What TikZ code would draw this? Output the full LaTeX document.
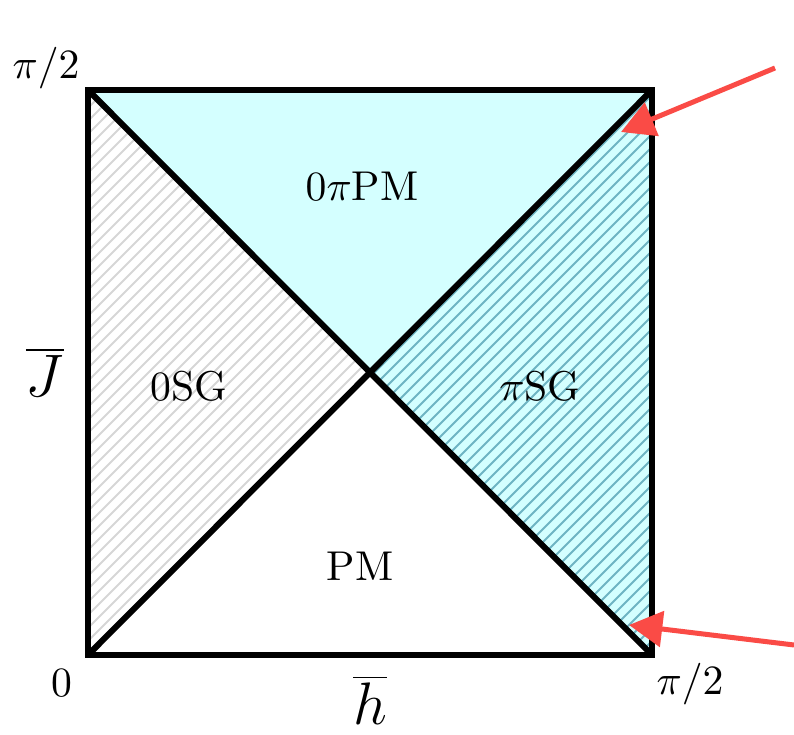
\documentclass[tikz,border=0pt]{standalone}
\usetikzlibrary{arrows.meta}
\definecolor{lcyan}{RGB}{212,255,255}
\definecolor{hatchc}{RGB}{110,180,195}
\definecolor{arrred}{RGB}{250,75,70}
\begin{document}
\begin{tikzpicture}[x=0.24pt,y=-0.24pt,
  border/.style={line width=1.25pt,line join=miter},
  diag/.style={line width=1.45pt},
  hatchpi/.style={hatchc,line width=0.45pt},
  hatchzero/.style={black!16,line width=0.45pt},
  lab/.style={inner sep=0pt,font=\normalsize},
  redarr/.style={arrred,line width=1.2pt,-{Triangle[length=8pt,width=8.5pt]}}]
\useasboundingbox (0,0) rectangle (794,735);
\coordinate (TL) at (88,90);
\coordinate (TR) at (652,90);
\coordinate (BR) at (652,655);
\coordinate (BL) at (88,655);
\coordinate (C) at (370,372);
% fills
\fill[lcyan] (TL) -- (TR) -- (C) -- cycle;
\fill[lcyan] (C) -- (TR) -- (BR) -- cycle;
\begin{scope}
  \clip (C) -- (TR) -- (BR) -- cycle;
  \foreach \c in {370,383,...,1320} \draw[hatchpi] (\c-700,700) -- (\c-40,40);
\end{scope}
\begin{scope}
  \clip (TL) -- (C) -- (BL) -- cycle;
  \foreach \c in {170,183,...,760} \draw[hatchzero] (\c-700,700) -- (\c-40,40);
\end{scope}
% lines
\draw[diag] (TL) -- (BR);
\draw[diag] (BL) -- (TR);
\draw[border] (TL) -- (TR) -- (BR) -- (BL) -- cycle;
% labels
\node[lab] (l0pipm) at (362,186) {$0\pi$PM};
\node[lab] (l0sg) at (189,386) {0SG};
\node[lab] (lpisg) at (540,386) {$\pi$SG};
\node[lab] (lpm) at (360,566) {PM};
\node[lab] (ltop) at (46,68) {$\pi/2$};
\node[lab] (lzero) at (62,683) {0};
\node[lab] (lright) at (690,684) {$\pi/2$};
\node[lab,font=\Large] (lh) at (370,700) {$\overline{h}$};
\node[lab,font=\Large] (lj) at (45,372) {$\overline{J}$};
% red arrows
\coordinate (a1s) at (775,68);
\coordinate (a1e) at (621,132);
\coordinate (a2s) at (794,645);
\coordinate (a2e) at (629,625);
\draw[redarr] (a1s) -- (a1e);
\draw[redarr] (a2s) -- (a2e);
\end{tikzpicture}
\end{document}
